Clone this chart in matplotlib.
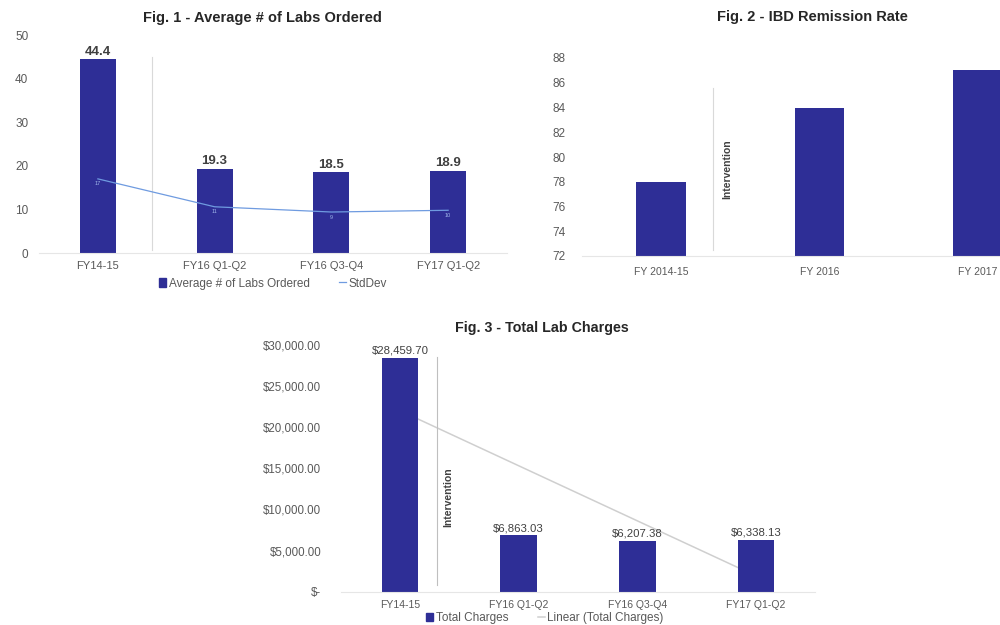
import matplotlib
matplotlib.use("Agg")
import matplotlib.pyplot as plt
from matplotlib.lines import Line2D
from matplotlib.patches import Patch
import numpy as np

plt.rcParams['font.family'] = ['Liberation Sans', 'DejaVu Sans']

# Fig. 1 data
labs_periods = ['FY14-15', 'FY16 Q1-Q2', 'FY16 Q3-Q4', 'FY17 Q1-Q2']
labs_avg = [44.4, 19.3, 18.5, 18.9]
labs_std = [17.0, 10.6, 9.4, 9.8]

# Fig. 2 data
ibd_years = ['FY 2014-15', 'FY 2016', 'FY 2017']
ibd_rate = [78, 84, 87]

# Fig. 3 data
charge_periods = ['FY14-15', 'FY16 Q1-Q2', 'FY16 Q3-Q4', 'FY17 Q1-Q2']
charges = [28459.70, 6863.03, 6207.38, 6338.13]

BAR = '#2e2e96'
GRID = '#d9d9d9'
TXT = '#595959'
W, H = 1000, 625


def px_axes(fig, left, top, right, bottom):
    # axes placed by pixel edges (top-left origin)
    return fig.add_axes([left / W, 1 - bottom / H, (right - left) / W, (bottom - top) / H])


def clean(ax):
    for s in ['top', 'right', 'left']:
        ax.spines[s].set_visible(False)
    ax.spines['bottom'].set_color('#e6e6e6')
    ax.tick_params(length=0, colors=TXT)
    ax.tick_params(axis='y', labelsize=8.5)


fig = plt.figure(figsize=(10, 6.25), dpi=100)

# ---- Fig 1
ax1 = px_axes(fig, 39.5, 35, 506.5, 253)
clean(ax1)
x1 = np.arange(len(labs_periods))
ax1.bar(x1, labs_avg, width=0.31, color=BAR, zorder=2)
ax1.plot(x1, labs_std, color='#6f9be0', lw=0.9, zorder=3)
for xi, v in zip(x1, labs_avg):
    ax1.text(xi, v + 0.4, f'{v:.1f}', ha='center', va='bottom', fontsize=9.5,
             fontweight='bold', color='#404040')
for xi, v in zip(x1, labs_std):
    ax1.text(xi, v - 0.6, f'{v:.0f}', ha='center', va='top', fontsize=4,
             color='#9fb6ea', zorder=4)
ax1.plot([0.46, 0.46], [0.7, 45], color=GRID, lw=0.8, zorder=1)
ax1.set_xlim(-0.5, 3.5)
ax1.set_ylim(0, 50)
ax1.set_yticks(range(0, 51, 10))
ax1.set_xticks(x1, labs_periods)
ax1.tick_params(axis='y', pad=8)
ax1.tick_params(axis='x', pad=6, labelsize=8)
fig.text(262 / W, 1 - 18 / H, 'Fig. 1 - Average # of Labs Ordered', ha='center',
         va='center', fontsize=10.5, fontweight='bold', color='#262626')
h1 = [Patch(color=BAR), Line2D([], [], color='#6f9be0', lw=0.9)]
ax1.legend(h1, ['Average # of Labs Ordered', 'StdDev'], loc='center',
           bbox_to_anchor=(0.5, -0.14), ncol=2, frameon=False, fontsize=8.5,
           labelcolor=TXT, handlelength=0.6, handletextpad=0.2, columnspacing=2.5)

# ---- Fig 2
ax2 = px_axes(fig, 582, 58, 1057, 256)
clean(ax2)
x2 = np.arange(len(ibd_years))
ax2.bar(x2, ibd_rate, width=0.315, color=BAR, zorder=2)
ax2.plot([0.327, 0.327], [72.5, 85.6], color=GRID, lw=0.8)
ax2.text(0.415, 79, 'Intervention', rotation=90, ha='center', va='center',
         fontsize=7.5, fontweight='bold', color='#404040')
ax2.set_xlim(-0.5, 2.5)
ax2.set_ylim(72, 88)
ax2.set_yticks(range(72, 89, 2))
ax2.set_xticks(x2, ibd_years)
ax2.tick_params(axis='y', pad=12)
ax2.tick_params(axis='x', pad=8, labelsize=7.5)
fig.text(812 / W, 1 - 17 / H, 'Fig. 2 - IBD Remission Rate', ha='center',
         va='center', fontsize=10.5, fontweight='bold', color='#262626')

# ---- Fig 3
ax3 = px_axes(fig, 340.6, 345, 815.4, 591.7)
clean(ax3)
x3 = np.arange(len(charge_periods))
ax3.bar(x3, charges, width=0.31, color=BAR, zorder=2)
coef = np.polyfit(x3, charges, 1)
trend = np.polyval(coef, x3)
ax3.plot(x3, trend, color='#cfcfcf', lw=1.1, zorder=1)
for xi, v in zip(x3, charges):
    ax3.text(xi, v + 250, f'${v:,.2f}', ha='center', va='bottom', fontsize=8.2,
             color='#404040')
ax3.plot([0.312, 0.312], [800, 28600], color='#bfbfbf', lw=0.8, zorder=1)
ax3.text(0.405, 11500, 'Intervention', rotation=90, ha='center', va='center',
         fontsize=7.5, fontweight='bold', color='#404040')
ax3.set_xlim(-0.5, 3.5)
ax3.set_ylim(0, 30000)
ax3.set_yticks(range(0, 30001, 5000))
ax3.set_yticklabels(['$-'] + [f'${v:,.2f}' for v in range(5000, 30001, 5000)])
ax3.set_xticks(x3, charge_periods)
ax3.tick_params(axis='y', pad=14, labelsize=8.3)
ax3.tick_params(axis='x', pad=6, labelsize=7.5)
fig.text(542 / W, 1 - 328 / H, 'Fig. 3 - Total Lab Charges', ha='center',
         va='center', fontsize=10.3, fontweight='bold', color='#262626')
h3 = [Patch(color=BAR), Line2D([], [], color='#cfcfcf', lw=1.1)]
ax3.legend(h3, ['Total Charges', 'Linear (Total Charges)'], loc='center',
           bbox_to_anchor=(0.43, -0.107), ncol=2, frameon=False, fontsize=8.5,
           labelcolor=TXT, handlelength=0.6, handletextpad=0.2, columnspacing=2.5)

fig.savefig('out.png', dpi=100)
